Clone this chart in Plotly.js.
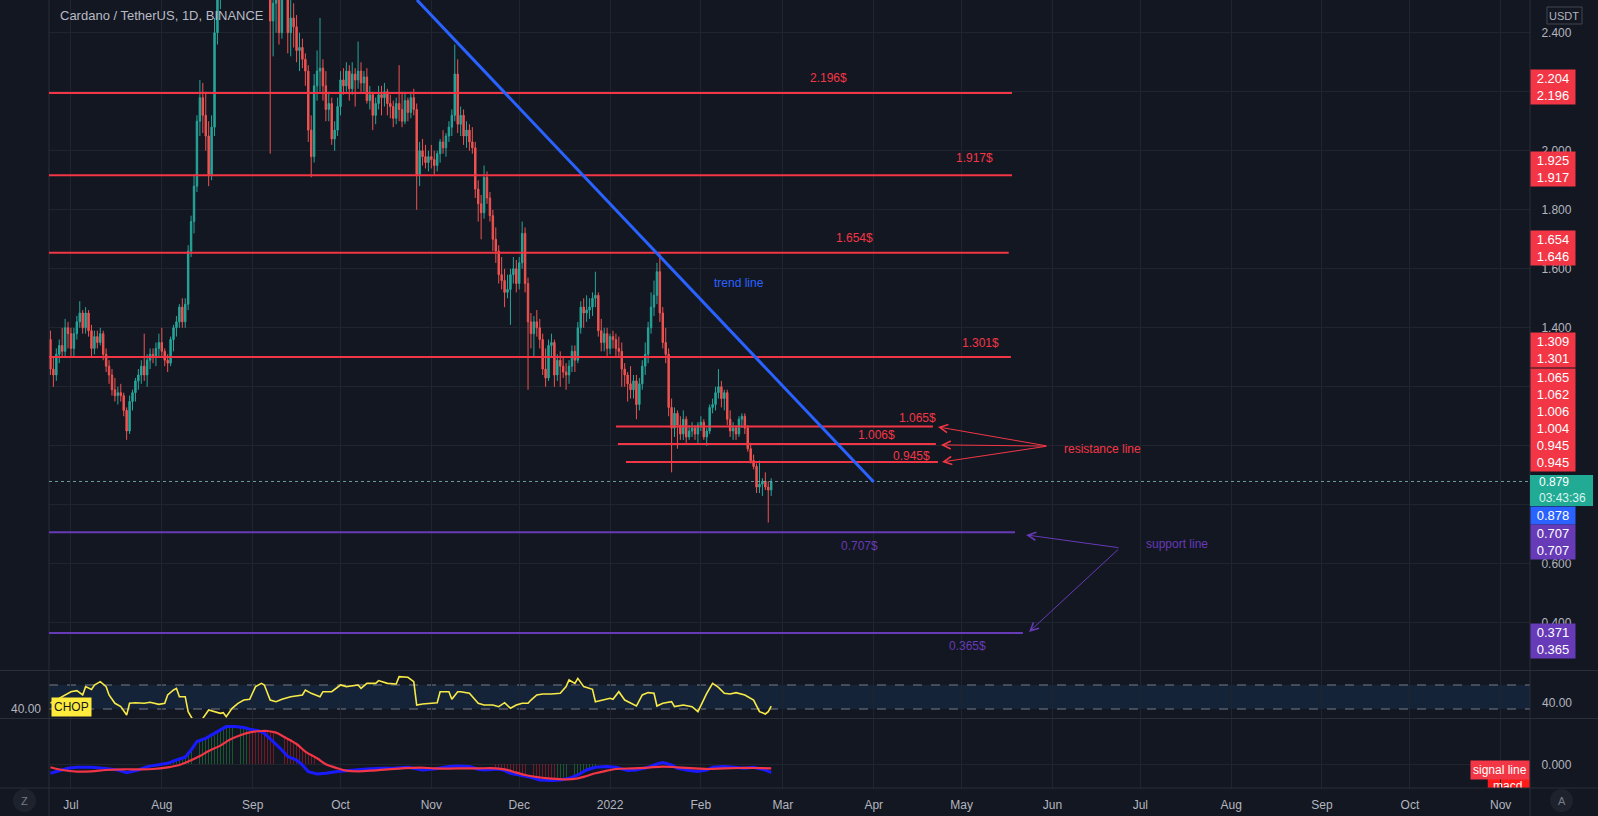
<!DOCTYPE html>
<html><head><meta charset="utf-8">
<script src="https://cdn.plot.ly/plotly-3.0.1.min.js"></script>
<style>html,body{margin:0;padding:0;background:#131722;overflow:hidden}#chart{width:1598px;height:816px}</style>
</head><body><div id="chart"></div>
<script>
// ---------------- DATA ----------------
const firstDay = '2021-06-24'; // first daily candle
const opens = [
1.36,1.26,1.24,1.31,1.34,1.32,1.40,
1.38,1.33,1.38,1.42,1.45,1.40,1.45,1.39,1.33,1.37,1.35,1.38,1.31,1.27,1.24,1.19,1.17,1.18,1.17,1.12,1.05,1.15,1.18,1.22,1.24,1.27,1.24,1.29,1.31,1.30,1.33,
1.35,1.32,1.29,1.28,1.36,1.40,1.42,1.47,1.42,1.48,1.66,1.76,1.88,2.10,2.18,2.12,2.05,1.92,2.08,2.40,2.58,2.60,2.88,2.85,2.65,2.79,2.60,2.80,2.86,2.84,2.76,
2.78,2.90,2.96,2.86,2.89,2.92,2.84,2.44,2.50,2.52,2.40,2.80,2.65,2.40,2.45,2.42,2.34,2.35,2.31,2.27,2.07,1.98,2.22,2.27,2.28,2.22,2.14,2.16,2.04,2.07,
2.15,2.24,2.22,2.27,2.21,2.26,2.24,2.27,2.23,2.25,2.17,2.19,2.12,2.16,2.19,2.18,2.20,2.16,2.15,2.11,2.16,2.14,2.10,2.17,2.13,2.18,2.14,1.92,2.00,1.98,1.96,
1.98,1.97,1.95,1.99,2.03,2.01,2.05,2.08,2.12,2.26,2.09,2.12,2.05,2.07,2.03,2.01,1.87,1.82,1.79,1.91,1.84,1.78,1.70,1.66,1.58,1.56,1.52,1.53,1.58,1.60,
1.55,1.62,1.72,1.55,1.42,1.38,1.42,1.40,1.36,1.26,1.23,1.34,1.35,1.24,1.29,1.27,1.25,1.24,1.27,1.32,1.29,1.40,1.47,1.45,1.46,1.47,1.50,1.51,1.39,1.35,1.38,
1.33,1.37,1.36,1.33,1.32,1.26,1.24,1.21,1.19,1.22,1.14,1.21,1.27,1.31,1.40,1.47,1.51,1.59,1.45,1.35,1.31,1.13,1.06,1.11,1.07,1.04,1.09,1.03,1.05,1.06,1.04,
1.07,1.08,1.03,1.05,1.13,1.14,1.18,1.20,1.16,1.18,1.09,1.05,1.06,1.04,1.09,1.10,1.06,0.99,0.95,0.93,0.86,0.87,0.88,0.86,0.85];
const highs = [
1.39,1.30,1.33,1.36,1.40,1.43,1.42,
1.40,1.40,1.44,1.49,1.46,1.47,1.46,1.41,1.39,1.39,1.40,1.39,1.33,1.29,1.26,1.23,1.20,1.21,1.18,1.13,1.17,1.19,1.23,1.26,1.29,1.38,1.31,1.33,1.33,1.35,1.38,
1.40,1.33,1.31,1.37,1.41,1.44,1.48,1.50,1.50,1.68,1.78,1.92,2.12,2.24,2.23,2.20,2.10,2.12,2.45,2.65,2.75,2.95,2.96,2.86,2.85,2.82,2.84,2.90,2.92,2.88,2.85,
2.95,3.10,3.00,2.94,2.96,2.96,2.88,2.56,2.58,2.60,2.85,2.84,2.70,2.52,2.50,2.46,2.40,2.38,2.33,2.29,2.12,2.26,2.34,2.45,2.31,2.27,2.20,2.18,2.10,2.18,
2.27,2.28,2.30,2.29,2.30,2.28,2.37,2.30,2.27,2.28,2.22,2.20,2.18,2.22,2.22,2.23,2.21,2.19,2.17,2.18,2.29,2.20,2.20,2.18,2.20,2.21,2.16,2.03,2.04,2.02,2.00,
2.02,2.00,2.00,2.04,2.07,2.06,2.10,2.14,2.36,2.31,2.15,2.14,2.10,2.09,2.08,2.03,1.90,1.85,1.95,1.93,1.86,1.80,1.74,1.68,1.64,1.60,1.58,1.60,1.64,1.63,
1.64,1.76,1.74,1.57,1.45,1.44,1.46,1.43,1.38,1.33,1.36,1.38,1.36,1.31,1.32,1.30,1.28,1.29,1.34,1.34,1.42,1.49,1.50,1.51,1.50,1.52,1.59,1.52,1.43,1.40,1.40,
1.38,1.39,1.38,1.37,1.35,1.28,1.25,1.27,1.24,1.24,1.23,1.29,1.35,1.42,1.52,1.56,1.62,1.65,1.47,1.40,1.33,1.16,1.13,1.12,1.10,1.12,1.10,1.07,1.08,1.07,1.08,
1.10,1.09,1.06,1.14,1.16,1.20,1.26,1.22,1.19,1.19,1.12,1.08,1.07,1.10,1.11,1.11,1.07,1.01,0.97,0.94,0.95,0.89,0.91,0.88,0.89];
const lows = [
1.24,1.20,1.22,1.28,1.30,1.30,1.33,
1.30,1.30,1.36,1.40,1.38,1.38,1.37,1.30,1.31,1.33,1.34,1.29,1.25,1.21,1.17,1.15,1.14,1.15,1.10,1.02,1.04,1.12,1.15,1.19,1.21,1.22,1.20,1.26,1.28,1.27,1.30,
1.30,1.27,1.25,1.27,1.32,1.37,1.40,1.40,1.40,1.46,1.64,1.72,1.86,2.05,2.06,2.00,1.88,1.90,2.05,2.36,2.48,2.55,2.72,2.58,2.60,2.55,2.58,2.76,2.78,2.70,2.68,
2.74,2.85,2.80,2.84,2.85,2.80,1.99,2.32,2.40,2.36,2.38,2.58,2.33,2.32,2.35,2.30,2.27,2.28,2.22,2.03,1.91,1.96,2.17,2.20,2.17,2.10,2.10,2.02,2.00,2.05,
2.12,2.19,2.20,2.17,2.19,2.15,2.21,2.20,2.20,2.16,2.14,2.07,2.09,2.14,2.12,2.15,2.12,2.11,2.08,2.09,2.10,2.08,2.09,2.10,2.11,2.12,1.80,1.88,1.95,1.94,1.93,
1.94,1.92,1.93,1.96,1.99,1.98,2.03,2.05,2.10,2.06,2.05,2.02,2.01,2.00,1.99,1.84,1.76,1.70,1.77,1.82,1.76,1.66,1.62,1.55,1.53,1.47,1.50,1.41,1.55,1.52,
1.53,1.60,1.52,1.19,1.33,1.30,1.37,1.33,1.24,1.20,1.22,1.30,1.20,1.22,1.20,1.23,1.19,1.21,1.25,1.25,1.28,1.38,1.40,1.42,1.43,1.44,1.47,1.37,1.32,1.32,1.30,
1.31,1.33,1.30,1.30,1.20,1.20,1.15,1.16,1.16,1.09,1.12,1.19,1.24,1.28,1.38,1.44,1.48,1.42,1.33,1.28,1.10,0.91,1.03,0.99,1.02,1.02,1.01,1.02,1.03,1.02,1.01,
1.05,1.02,1.00,1.04,1.11,1.12,1.16,1.13,1.12,1.07,1.03,1.02,1.02,1.03,1.06,1.04,0.98,0.94,0.92,0.84,0.84,0.83,0.85,0.74,0.83];
const closes = [
1.26,1.24,1.31,1.34,1.32,1.40,1.38,
1.33,1.38,1.42,1.45,1.40,1.45,1.39,1.33,1.37,1.35,1.38,1.31,1.27,1.24,1.19,1.17,1.18,1.17,1.12,1.05,1.15,1.18,1.22,1.24,1.27,1.24,1.29,1.31,1.30,1.33,1.35,
1.32,1.29,1.28,1.36,1.40,1.42,1.47,1.42,1.48,1.66,1.76,1.88,2.10,2.18,2.12,2.05,1.92,2.08,2.40,2.58,2.60,2.88,2.85,2.65,2.79,2.60,2.80,2.86,2.84,2.76,2.78,
2.90,2.96,2.86,2.89,2.92,2.84,2.44,2.50,2.52,2.40,2.80,2.65,2.40,2.45,2.42,2.34,2.35,2.31,2.27,2.07,1.98,2.22,2.27,2.28,2.22,2.14,2.16,2.04,2.07,2.15,
2.24,2.22,2.27,2.21,2.26,2.24,2.27,2.23,2.25,2.17,2.19,2.12,2.16,2.19,2.18,2.20,2.16,2.15,2.11,2.16,2.14,2.10,2.17,2.13,2.18,2.14,1.92,2.00,1.98,1.96,1.98,
1.97,1.95,1.99,2.03,2.01,2.05,2.08,2.12,2.26,2.09,2.12,2.05,2.07,2.03,2.01,1.87,1.82,1.79,1.91,1.84,1.78,1.70,1.66,1.58,1.56,1.52,1.53,1.58,1.60,1.55,
1.62,1.72,1.55,1.42,1.38,1.42,1.40,1.36,1.26,1.23,1.34,1.35,1.24,1.29,1.27,1.25,1.24,1.27,1.32,1.29,1.40,1.47,1.45,1.46,1.47,1.50,1.51,1.39,1.35,1.38,1.33,
1.37,1.36,1.33,1.32,1.26,1.24,1.21,1.19,1.22,1.14,1.21,1.27,1.31,1.40,1.47,1.51,1.59,1.45,1.35,1.31,1.13,1.06,1.11,1.07,1.04,1.09,1.03,1.05,1.06,1.04,1.07,
1.08,1.03,1.05,1.13,1.14,1.18,1.20,1.16,1.18,1.09,1.05,1.06,1.04,1.09,1.10,1.06,0.99,0.95,0.93,0.86,0.87,0.88,0.86,0.85,0.879];

// CHOP (day index from first candle, value)
const chopIdx = [0,2,4,7,9,11,12,14,15,17,19,20,22,24,26,27,29,32,34,37,39,40,42,43,44,46,47,48,49,51,52,54,56,58,59,60,62,64,66,68,70,72,73,75,77,79,82,86,87,89,92,93,96,99,101,105,106,108,111,112,115,118,119,122,124,125,127,132,133,136,137,139,140,143,146,148,151,153,155,157,159,161,163,164,166,168,171,174,176,177,179,180,182,185,186,188,191,192,194,196,198,200,202,204,206,207,209,212,213,216,219,221,224,226,228,230,232,234,237,240,242,244,245,246];
const chopVal = [44.0,47.0,50.3,55.2,56.2,52.0,60.2,57.5,61.8,65.1,60.2,52.0,43.8,40.5,32.3,43.8,44.4,43.8,44.8,42.8,43.8,52.0,56.9,58.5,50.3,50.3,35.6,30.7,25.7,20.8,29.0,37.2,35.6,33.9,34.6,30.7,38.9,43.8,47.0,47.7,60.2,63.4,61.8,47.0,45.4,47.7,50.3,52.0,56.9,53.6,50.3,55.2,55.2,61.8,60.2,61.8,58.5,63.4,63.4,66.1,63.4,62.8,70.0,69.4,65.1,42.1,43.1,44.4,55.2,55.2,47.7,55.2,55.2,53.6,43.8,42.1,42.1,40.5,44.4,38.9,42.1,43.8,43.8,47.0,52.0,52.9,52.9,53.6,60.2,66.7,63.4,68.3,60.2,57.5,45.4,47.0,48.7,47.7,55.2,47.0,43.8,41.1,52.0,54.3,53.6,41.1,43.8,45.4,40.5,42.1,40.5,35.6,53.6,63.4,59.5,53.6,52.9,54.3,52.0,47.0,35.6,33.3,35.6,41.1];
const chopBands = [61.8, 38.2];

// MACD pane
const macdIdx = [0,2,6,9,14,18,23,26,30,33,37,40,43,46,48,50,53,55,58,60,63,66,68,71,73,76,79,81,84,86,88,91,94,98,101,105,108,113,117,122,125,127,131,136,139,143,146,148,153,155,157,160,164,167,171,174,177,180,183,186,190,193,197,200,204,207,209,212,214,218,221,224,226,230,233,237,240,244,246];
const macdVal = [-0.090,-0.073,-0.040,-0.030,-0.030,-0.040,-0.057,-0.083,-0.057,-0.023,-0.007,0.010,0.043,0.070,0.143,0.227,0.260,0.293,0.343,0.377,0.377,0.367,0.350,0.337,0.310,0.227,0.143,0.077,0.043,-0.007,-0.073,-0.097,-0.090,-0.073,-0.063,-0.050,-0.047,-0.040,-0.040,-0.030,-0.050,-0.057,-0.047,-0.023,-0.017,-0.023,-0.050,-0.057,-0.047,-0.063,-0.090,-0.107,-0.130,-0.157,-0.163,-0.157,-0.140,-0.107,-0.057,-0.030,-0.023,-0.030,-0.063,-0.057,-0.030,0.003,0.017,-0.007,-0.040,-0.063,-0.073,-0.057,-0.030,-0.023,-0.030,-0.040,-0.030,-0.057,-0.083];
const sigIdx = [0,4,9,14,19,25,30,35,40,44,47,51,54,58,61,65,68,72,74,77,80,84,87,91,94,98,101,105,110,115,120,126,131,136,141,146,152,155,159,162,166,171,176,180,183,186,190,193,199,204,209,214,220,225,230,235,240,246];
const sigVal = [-0.030,-0.057,-0.073,-0.070,-0.057,-0.050,-0.050,-0.047,-0.030,-0.007,0.027,0.083,0.133,0.187,0.243,0.293,0.320,0.333,0.333,0.317,0.270,0.203,0.127,0.060,0.000,-0.040,-0.063,-0.070,-0.063,-0.050,-0.040,-0.033,-0.040,-0.043,-0.040,-0.040,-0.040,-0.050,-0.083,-0.107,-0.127,-0.143,-0.150,-0.140,-0.117,-0.090,-0.063,-0.047,-0.040,-0.033,-0.023,-0.030,-0.040,-0.047,-0.040,-0.037,-0.037,-0.040];
const histUpIdx = [40,41,42,43,44,45,46,47,48,49,50,51,52,53,54,55,56,57,58,59,60,61,62,63,64,65,66,67,173,174,175,176,177,178,179,180,181,182,183,184,185,186];
const histUpVal = [0.01,0.02,0.03,0.04,0.05,0.06,0.07,0.10,0.14,0.19,0.23,0.24,0.25,0.26,0.28,0.29,0.31,0.33,0.34,0.36,0.37,0.38,0.38,0.38,0.37,0.37,0.36,0.35,-0.16,-0.16,-0.16,-0.15,-0.15,-0.14,-0.13,-0.12,-0.11,-0.09,-0.07,-0.06,-0.04,-0.03];
const histDnIdx = [68,69,70,71,72,73,74,75,76,77,78,79,80,81,82,83,84,85,86,87,88,89,90,91,92,93,94,152,153,154,155,156,157,158,159,160,161,162,163,164,165,166,167,168,169,170,171,172];
const histDnVal = [0.32,0.33,0.33,0.33,0.33,0.33,0.33,0.33,0.32,0.32,0.30,0.29,0.27,0.25,0.24,0.22,0.20,0.18,0.15,0.13,0.11,0.09,0.07,0.06,0.04,0.02,0.01,-0.04,-0.05,-0.05,-0.06,-0.07,-0.09,-0.10,-0.10,-0.11,-0.11,-0.12,-0.12,-0.13,-0.14,-0.15,-0.16,-0.16,-0.16,-0.16,-0.16,-0.16];

// Horizontal levels drawn by the author
const resistLevels = [2.196, 1.917, 1.654, 1.301, 1.065, 1.006, 0.945];
const resistStart = ['2021-06-23 12:00','2021-06-23 12:00','2021-06-23 12:00','2021-06-23 12:00','2022-01-03','2022-01-03 16:00','2022-01-06 10:00'];
const resistEnd = ['2022-05-18 05:00','2022-05-18 05:00','2022-05-17 02:00','2022-05-17 20:00','2022-04-21 05:00','2022-04-22 05:00','2022-04-22 22:00'];
const supportLevels = [0.707, 0.365];
const supportEnd = ['2022-05-19 05:00','2022-05-21 22:00'];
const trendStart = ['2021-10-27 02:00', 2.511];
const trendEnd = ['2022-04-01', 0.877];
const lastPrice = 0.879;

const monthTicks = ['2021-07-01','2021-08-01','2021-09-01','2021-10-01','2021-11-01','2021-12-01','2022-01-01','2022-02-01','2022-03-01','2022-04-01','2022-05-01','2022-06-01','2022-07-01','2022-08-01','2022-09-01','2022-10-01','2022-11-01'];
const monthLabels = ['Jul','Aug','Sep','Oct','Nov','Dec','2022','Feb','Mar','Apr','May','Jun','Jul','Aug','Sep','Oct','Nov'];
// price scale: gridline every 0.2; labels covered by the tags are left blank
const priceTicks = [0.4,0.6,0.8,1.0,1.2,1.4,1.6,1.8,2.0,2.2,2.4];
const priceTickText = ['0.400','0.600','','','','1.400','1.600','1.800','2.000','','2.400'];

// price-scale tags, grouped the way the scale stacks them
const tagGroups = [
  ['2.204','2.196'], ['1.925','1.917'], ['1.654','1.646'], ['1.309','1.301'],
  ['1.065','1.062','1.006','1.004','0.945','0.945'], ['0.878'], ['0.707','0.707'], ['0.371','0.365']
];

// ---------------- HELPERS ----------------
const DAY = 86400000;
const t0 = Date.parse(firstDay + 'T00:00:00Z');
function dateOf(i){ return new Date(t0 + i*DAY).toISOString().slice(0,10); }
const dates = opens.map((_, i) => dateOf(i));
const idxDates = arr => arr.map(dateOf);

const W = 1598, H = 816, ML = 49, MR = 68, MB = 28;
const PW = W - ML - MR, PH = H - MB;
const px = x => (x - ML) / PW;
const py = y => (PH - y) / PH;

const FONT = '"Liberation Sans", Arial, sans-serif';
const RED = '#f23645', PURPLE = '#673ab7', BLUE = '#2962ff';
const GRID = '#20242f', SEP = '#2a2e39', TXT = '#b2b5be';

// ---------------- TRACES ----------------
const traces = [
  {type:'candlestick', x:dates, open:opens, high:highs, low:lows, close:closes,
   xaxis:'x', yaxis:'y', hoverinfo:'skip', whiskerwidth:0,
   increasing:{line:{color:'#26a69a', width:1}, fillcolor:'#26a69a'},
   decreasing:{line:{color:'#ef5350', width:1}, fillcolor:'#ef5350'}},
  {type:'scatter', mode:'lines', x:idxDates(chopIdx), y:chopVal, xaxis:'x', yaxis:'y2',
   line:{color:'#f7ea48', width:1.6}, hoverinfo:'skip'},
  {type:'bar', x:idxDates(histUpIdx), y:histUpVal, xaxis:'x', yaxis:'y3', width:0.28*DAY,
   marker:{color:'rgba(30,140,60,0.55)', line:{width:0}}, hoverinfo:'skip'},
  {type:'bar', x:idxDates(histDnIdx), y:histDnVal, xaxis:'x', yaxis:'y3', width:0.28*DAY,
   marker:{color:'rgba(190,30,40,0.55)', line:{width:0}}, hoverinfo:'skip'},
  {type:'scatter', mode:'lines', x:idxDates(macdIdx), y:macdVal, xaxis:'x', yaxis:'y3',
   line:{color:'#1a1aff', width:3}, hoverinfo:'skip'},
  {type:'scatter', mode:'lines', x:idxDates(sigIdx), y:sigVal, xaxis:'x', yaxis:'y3',
   line:{color:'#f23645', width:2.2, shape:'spline'}, hoverinfo:'skip'},
  {type:'scatter', mode:'text', x:['2022-11-03 10:00'], y:[-0.222], text:['macd'], xaxis:'x', yaxis:'y3',
   textfont:{color:'#ffffff', size:12, family:FONT}, cliponaxis:true, hoverinfo:'skip'}
];

// ---------------- SHAPES ----------------
const shapes = [];
shapes.push({type:'rect', layer:'below', xref:'paper', yref:'y2', x0:0, x1:1, y0:chopBands[1], y1:chopBands[0],
  fillcolor:'rgba(33,150,243,0.10)', line:{width:0}});
chopBands.forEach(v => shapes.push({type:'line', layer:'below', xref:'paper', yref:'y2', x0:0, x1:1, y0:v, y1:v,
  line:{color:'#787b86', width:1, dash:'dash'}}));
[py(670.5), py(718.5), 0].forEach(v => shapes.push({type:'line', xref:'paper', yref:'paper', x0:px(0), x1:px(W), y0:v, y1:v, line:{color:SEP, width:1}}));
[0, 1].forEach(v => shapes.push({type:'line', xref:'paper', yref:'paper', x0:v, x1:v, y0:py(H), y1:1, line:{color:SEP, width:1}}));
shapes.push({type:'line', xref:'paper', yref:'y', x0:0, x1:1, y0:lastPrice, y1:lastPrice, line:{color:'rgba(120,180,175,0.85)', width:1, dash:'dot'}});
resistLevels.forEach((v, k) => shapes.push({type:'line', xref:'x', yref:'y', x0:resistStart[k], x1:resistEnd[k], y0:v, y1:v, line:{color:RED, width:2}}));
supportLevels.forEach((v, k) => shapes.push({type:'line', xref:'x', yref:'y', x0:'2021-06-23 12:00', x1:supportEnd[k], y0:v, y1:v, line:{color:PURPLE, width:2}}));
shapes.push({type:'line', xref:'x', yref:'y', x0:trendStart[0], y0:trendStart[1], x1:trendEnd[0], y1:trendEnd[1], line:{color:BLUE, width:3}});
shapes.push({type:'rect', layer:'below', xref:'x', yref:'y3', x0:'2022-10-27 14:00', x1:'2022-11-11', y0:-0.6, y1:-0.147, fillcolor:'#ff1a1a', line:{width:0}});
shapes.push({type:'rect', xref:'paper', yref:'paper', x0:1, x1:px(1593), y0:py(506), y1:py(475), fillcolor:'#22ab94', line:{width:0}});
shapes.push({type:'circle', xref:'paper', yref:'paper', x0:px(13), x1:px(36), y0:py(812), y1:py(789), fillcolor:'#1e222d', line:{width:0}});
shapes.push({type:'circle', xref:'paper', yref:'paper', x0:px(1550), x1:px(1573), y0:py(812), y1:py(789), fillcolor:'#1e222d', line:{width:0}});
shapes.push({type:'rect', xref:'paper', yref:'paper', x0:px(1547), x1:px(1582), y0:py(24), y1:py(7), fillcolor:'rgba(0,0,0,0)', line:{color:'#434651', width:1}});

// ---------------- ANNOTATIONS ----------------
const ann = [];
const txt = (x, y, text, color) => ({xref:'x', yref:'y', x, y, text, showarrow:false,
  font:{family:FONT, size:12, color}, xanchor:'center', yanchor:'middle'});
ann.push({xref:'paper', yref:'paper', x:px(58), y:py(16), xanchor:'left', yanchor:'middle', showarrow:false,
  text:'Cardano / TetherUS, 1D, BINANCE', font:{family:FONT, size:13, color:'#b8bbc4'}});
ann.push(txt('2022-03-16 10:00', 2.247, '2.196$', RED));
ann.push(txt('2022-05-05 12:00', 1.975, '1.917$', RED));
ann.push(txt('2022-03-25 14:00', 1.705, '1.654$', RED));
ann.push(txt('2022-05-07 14:00', 1.348, '1.301$', RED));
ann.push(txt('2022-04-16', 1.095, '1.065$', RED));
ann.push(txt('2022-04-02', 1.037, '1.006$', RED));
ann.push(txt('2022-04-14', 0.966, '0.945$', RED));
ann.push(txt('2022-03-27', 0.660, '0.707$', PURPLE));
ann.push(txt('2022-05-03', 0.321, '0.365$', PURPLE));
ann.push(txt('2022-06-17 22:00', 0.989, 'resistance line', RED));
ann.push(txt('2022-07-13 12:00', 0.667, 'support line', PURPLE));
ann.push(txt('2022-02-14', 1.552, 'trend line', BLUE));
const arrow = (hx, hy, tx, ty, color) => ({xref:'x', yref:'y', axref:'x', ayref:'y', x:hx, y:hy, ax:tx, ay:ty,
  text:' ', font:{size:1}, showarrow:true, arrowhead:5, arrowsize:1.6, arrowwidth:1, arrowcolor:color, standoff:0, startstandoff:0});
ann.push(arrow('2022-04-22 22:00', 1.064, '2022-05-30 10:00', 0.999, RED));
ann.push(arrow('2022-04-23 22:00', 1.003, '2022-05-30 10:00', 0.999, RED));
ann.push(arrow('2022-04-24 07:00', 0.945, '2022-05-30 10:00', 0.999, RED));
ann.push(arrow('2022-05-23', 0.698, '2022-06-24', 0.654, PURPLE));
ann.push(arrow('2022-05-24', 0.369, '2022-06-24', 0.654, PURPLE));
const groupCentre = [87.5, 169, 248.5, 349.5, 420.5, 515, 541.5, 640.5];
const groupColour = [RED, RED, RED, RED, RED, BLUE, PURPLE, PURPLE];
tagGroups.forEach((g, k) => {
  ann.push({xref:'paper', yref:'paper', x:1, y:py(groupCentre[k]), xanchor:'left', yanchor:'middle', showarrow:false,
    text:g.join('<br>'), bgcolor:groupColour[k], width:42, borderpad:1, align:'center',
    font:{family:FONT, size:13, color:'#ffffff'}});
});
ann.push({xref:'paper', yref:'paper', x:px(1537), y:py(490.5), xanchor:'left', yanchor:'middle', showarrow:false, align:'left',
  text:lastPrice.toFixed(3) + '<br><span style="color:#d8f3ee">03:43:36</span>', font:{family:FONT, size:12, color:'#ffffff'}});
ann.push({xref:'paper', yref:'paper', x:px(1564), y:py(15.5), xanchor:'center', yanchor:'middle', showarrow:false,
  text:'USDT', font:{family:FONT, size:11, color:TXT}});
ann.push({xref:'paper', yref:'paper', x:px(51), y:py(707), xanchor:'left', yanchor:'middle', showarrow:false,
  text:'CHOP', bgcolor:'#ffeb3b', borderpad:2, font:{family:FONT, size:12, color:'#131722'}});
ann.push({xref:'paper', yref:'paper', x:px(26), y:py(709), xanchor:'center', yanchor:'middle', showarrow:false,
  text:'40.00', font:{family:FONT, size:12, color:TXT}});
ann.push({xref:'paper', yref:'paper', x:px(1540), y:py(703), xanchor:'left', yanchor:'middle', showarrow:false,
  text:'40.00', font:{family:FONT, size:12, color:TXT}});
ann.push({xref:'paper', yref:'paper', x:1, y:py(769.5), xanchor:'right', yanchor:'middle', showarrow:false,
  text:'signal line', bgcolor:RED, borderpad:2, font:{family:FONT, size:12, color:'#ffffff'}});
ann.push({xref:'paper', yref:'paper', x:px(24.5), y:py(800.5), xanchor:'center', yanchor:'middle', showarrow:false,
  text:'Z', font:{family:FONT, size:11, color:'#787b86'}});
ann.push({xref:'paper', yref:'paper', x:px(1561.5), y:py(800.5), xanchor:'center', yanchor:'middle', showarrow:false,
  text:'A', font:{family:FONT, size:11, color:'#787b86'}});

// ---------------- LAYOUT ----------------
const layout = {
  width:W, height:H, paper_bgcolor:'#131722', plot_bgcolor:'#131722',
  margin:{l:ML, r:MR, t:0, b:MB, pad:0}, showlegend:false, hovermode:false,
  font:{family:FONT, color:TXT, size:12}, bargap:0,
  xaxis:{type:'date', range:['2021-06-23 12:00','2022-11-11'], domain:[0,1], anchor:'y3',
    tickvals:monthTicks, ticktext:monthLabels, showgrid:true, gridcolor:GRID, gridwidth:1,
    ticks:'outside', ticklen:6, tickcolor:'rgba(0,0,0,0)', tickfont:{size:12, color:TXT, family:FONT},
    showline:false, zeroline:false, rangeslider:{visible:false}, fixedrange:true},
  yaxis:{domain:[py(670), 1], range:[0.240, 2.511], side:'right', anchor:'x', tickvals:priceTicks, ticktext:priceTickText,
    showgrid:true, gridcolor:GRID, zeroline:false, showline:false, ticks:'outside', ticklen:8, tickcolor:'rgba(0,0,0,0)',
    tickfont:{size:12, color:TXT, family:FONT}, fixedrange:true},
  yaxis2:{domain:[py(718), py(671)], range:[29.35, 75.55], anchor:'x', showgrid:false, showticklabels:false, zeroline:false, fixedrange:true},
  yaxis3:{domain:[0, py(719)], range:[-0.237, 0.453], anchor:'x', side:'right', tickvals:[0], ticktext:['0.000'],
    showgrid:true, gridcolor:GRID, zeroline:false, ticks:'outside', ticklen:8, tickcolor:'rgba(0,0,0,0)',
    tickfont:{size:12, color:TXT, family:FONT}, fixedrange:true},
  shapes, annotations:ann
};

Plotly.newPlot('chart', traces, layout, {displayModeBar:false, staticPlot:true});
</script>
</body></html>
